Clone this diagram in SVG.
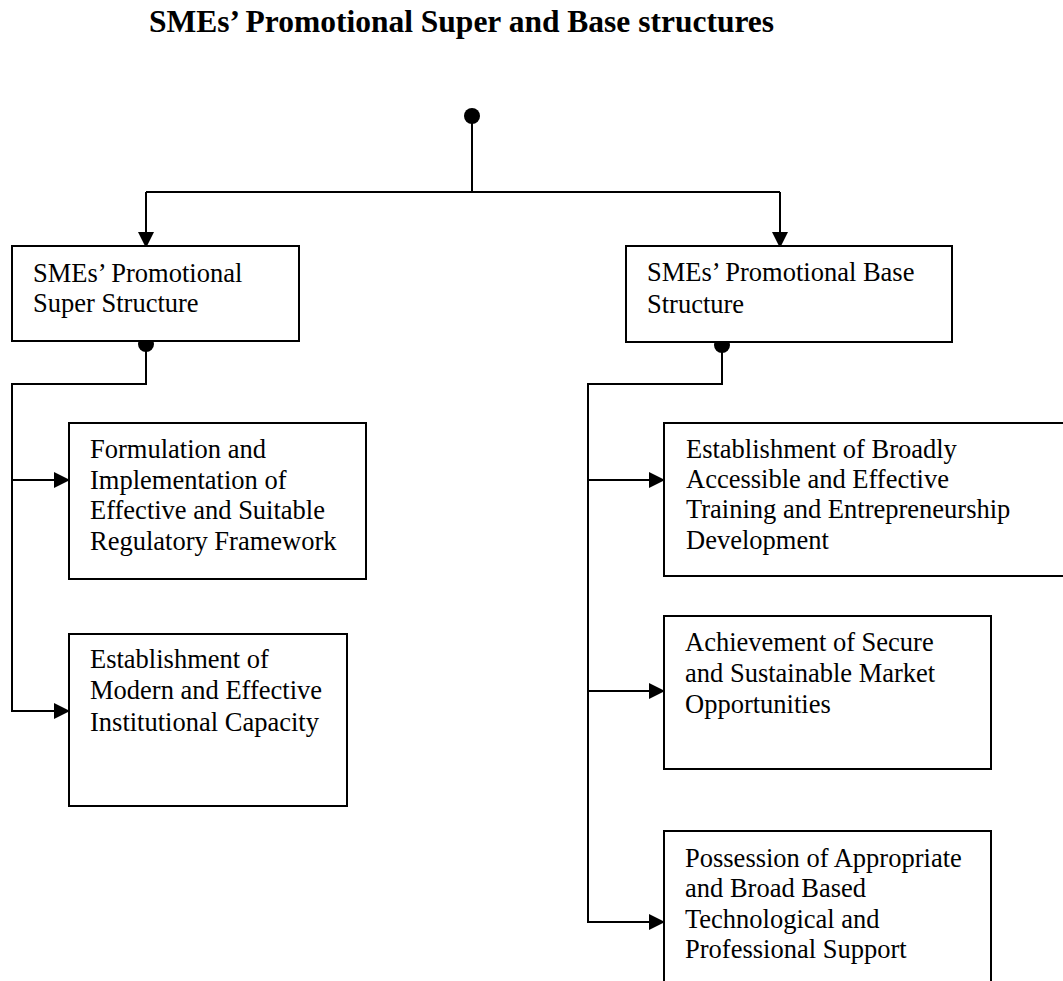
<svg xmlns="http://www.w3.org/2000/svg" width="1063" height="981" viewBox="0 0 1063 981">
<style>
.box{fill:#fff;stroke:#000;stroke-width:2}
.t{font-family:"Liberation Serif","Times New Roman",serif;font-size:26.5px;fill:#000}
.title{font-family:"Liberation Serif","Times New Roman",serif;font-size:31.5px;font-weight:bold;fill:#000}
.ln{fill:none;stroke:#000;stroke-width:2}
.dot{fill:#000}
</style>
<defs>
<marker id="arr" viewBox="0 0 16 16" refX="15" refY="8" markerWidth="16" markerHeight="16" markerUnits="userSpaceOnUse" orient="auto">
<path d="M0,0 L16,8 L0,16 Z" fill="#000"/>
</marker>
</defs>
<rect width="1063" height="981" fill="#fff"/>
<text class="title" x="149" y="32">SMEs’ Promotional Super and Base structures</text>
<g id="connectors">
<circle class="dot" cx="472" cy="116" r="8"/>
<path class="ln" d="M472,116 V192"/>
<path class="ln" d="M146,192 H780"/>
<path class="ln" d="M146,192 V247" marker-end="url(#arr)"/>
<path class="ln" d="M780,192 V247" marker-end="url(#arr)"/>
<circle class="dot" cx="146" cy="344" r="8"/>
<path class="ln" d="M146,344 V384 H12 V711 H69" marker-end="url(#arr)"/>
<path class="ln" d="M12,480 H69" marker-end="url(#arr)"/>
<circle class="dot" cx="722" cy="345" r="8"/>
<path class="ln" d="M722,345 V384 H588 V922 H664" marker-end="url(#arr)"/>
<path class="ln" d="M588,480 H664" marker-end="url(#arr)"/>
<path class="ln" d="M588,691 H664" marker-end="url(#arr)"/>
</g>
<g id="n1">
<rect class="box" x="12" y="246" width="287" height="95"/>
<text class="t" x="33" y="282">SMEs’ Promotional</text>
<text class="t" x="33" y="312">Super Structure</text>
</g>
<g id="n2">
<rect class="box" x="626" y="246" width="326" height="96"/>
<text class="t" x="647" y="281">SMEs’ Promotional Base</text>
<text class="t" x="647" y="313">Structure</text>
</g>
<g id="n3">
<rect class="box" x="69" y="423" width="297" height="156"/>
<text class="t" x="90" y="458">Formulation and</text>
<text class="t" x="90" y="489">Implementation of</text>
<text class="t" x="90" y="519">Effective and Suitable</text>
<text class="t" x="90" y="550">Regulatory Framework</text>
</g>
<g id="n4">
<rect class="box" x="69" y="634" width="278" height="172"/>
<text class="t" x="90" y="668">Establishment of</text>
<text class="t" x="90" y="699">Modern and Effective</text>
<text class="t" x="90" y="731">Institutional Capacity</text>
</g>
<g id="n5">
<rect class="box" x="664" y="423" width="420" height="153"/>
<text class="t" x="686" y="458">Establishment of Broadly</text>
<text class="t" x="686" y="488">Accessible and Effective</text>
<text class="t" x="686" y="518">Training and Entrepreneurship</text>
<text class="t" x="686" y="549">Development</text>
</g>
<g id="n6">
<rect class="box" x="664" y="616" width="327" height="153"/>
<text class="t" x="685" y="651">Achievement of Secure</text>
<text class="t" x="685" y="682">and Sustainable Market</text>
<text class="t" x="685" y="713">Opportunities</text>
</g>
<g id="n7">
<rect class="box" x="664" y="831" width="327" height="200"/>
<text class="t" x="685" y="867">Possession of Appropriate</text>
<text class="t" x="685" y="897">and Broad Based</text>
<text class="t" x="685" y="928">Technological and</text>
<text class="t" x="685" y="958">Professional Support</text>
</g>
</svg>
